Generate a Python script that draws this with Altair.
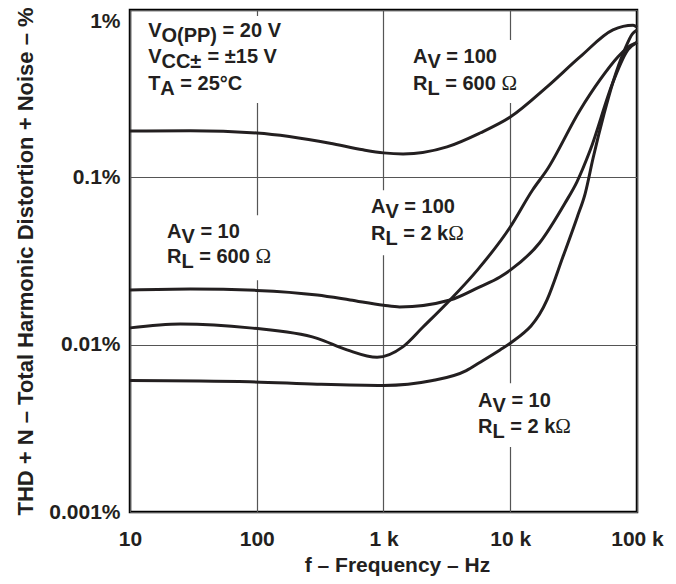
import math
import altair as alt
import pandas as pd

# ---------------- data ----------------
freq_ticks = [10, 100, 1000, 10000, 100000]
freq_tick_labels = ["10", "100", "1 k", "10 k", "100 k"]
thd_ticks = [0.001, 0.01, 0.1, 1]
thd_tick_labels = ["0.001%", "0.01%", "0.1%", "1%"]

# AV = 100, RL = 600 ohm
a100_600_f = [10, 30, 100, 378, 689, 1000, 1426, 3170, 5770, 10000, 19500, 35500, 64600, 93000, 100000]
a100_600_v = [0.189, 0.19, 0.184, 0.160, 0.146, 0.140, 0.138, 0.152, 0.184, 0.229, 0.347, 0.524, 0.76, 0.81, 0.79]

# AV = 10, RL = 600 ohm
a10_600_f = [10, 30, 100, 300, 545, 1000, 1340, 3350, 5700, 8300, 10000, 17000, 27000, 33600, 42700, 64600, 85000, 100000]
a10_600_v = [0.0212, 0.0215, 0.0211, 0.0198, 0.0185, 0.0172, 0.0168, 0.0185, 0.0221, 0.0254, 0.0279, 0.0405, 0.070, 0.094, 0.145, 0.37, 0.58, 0.64]

# AV = 100, RL = 2 kohm
a100_2k_f = [10, 25, 88, 300, 515, 890, 1420, 2040, 3350, 5500, 10000, 15000, 19500, 35500, 51000, 70000, 85000, 100000]
a100_2k_v = [0.0126, 0.0133, 0.0126, 0.0109, 0.0093, 0.0084, 0.0097, 0.0127, 0.0185, 0.0279, 0.0505, 0.084, 0.111, 0.252, 0.382, 0.52, 0.6, 0.64]

# AV = 10, RL = 2 kohm
a10_2k_f = [10, 88, 300, 1000, 2440, 4500, 5700, 8300, 10000, 19500, 26000, 33800, 39000, 45000, 55000, 64600, 80000, 92000, 100000]
a10_2k_v = [0.0061, 0.0060, 0.0058, 0.0057, 0.0061, 0.0070, 0.0078, 0.0093, 0.0102, 0.0185, 0.0334, 0.058, 0.08, 0.13, 0.24, 0.37, 0.58, 0.72, 0.76]

# label annotations: anchor (freq, %), lines of pieces (text, kind)
ann_f = [13.9, 1710, 19.6, 796, 5570]
ann_v = [0.69, 0.482, 0.0434, 0.0612, 0.00424]
ann_line_gap = [26.5, 27, 25, 27, 26]
ann_lines = [
    [[("V", "n"), ("O(PP)", "s"), (" = 20 V", "n")],
     [("V", "n"), ("CC±", "s"), (" = ±15 V", "n")],
     [("T", "n"), ("A", "s"), (" = 25°C", "n")]],
    [[("A", "n"), ("V", "s"), (" = 100", "n")],
     [("R", "n"), ("L", "s"), (" = 600 ", "n"), ("Ω", "g")]],
    [[("A", "n"), ("V", "s"), (" = 10", "n")],
     [("R", "n"), ("L", "s"), (" = 600 ", "n"), ("Ω", "g")]],
    [[("A", "n"), ("V", "s"), (" = 100", "n")],
     [("R", "n"), ("L", "s"), (" = 2 k", "n"), ("Ω", "g")]],
    [[("A", "n"), ("V", "s"), (" = 10", "n")],
     [("R", "n"), ("L", "s"), (" = 2 k", "n"), ("Ω", "g")]],
]

# white boxes behind labels (interrupt the grid)
box_f1 = [11, 1480, 17, 650, 4800]
box_f2 = [230, 14300, 220, 5700, 50000]
box_v1 = [0.92, 0.662, 0.0594, 0.0838, 0.00589]
box_v2 = [0.278, 0.278, 0.0243, 0.0342, 0.00245]

# ---------------- styling ----------------
FONT = "Liberation Sans"
SYM_FONT = "Liberation Serif"
AX_SIZE = 21
ANN_SIZE = 20
INK = "#231f20"

# Arial-bold advance widths (1/1000 em)
W = {' ': 278, '=': 584, 'A': 722, 'V': 667, 'R': 722, 'L': 611, 'T': 611,
     'O': 778, 'P': 667, 'C': 722, '(': 333, ')': 333, 'k': 556, '±': 584,
     '°': 400, 'Ω': 768}
for d in "0123456789":
    W[d] = 556


def tw(s, size):
    return sum(W.get(c, 556) for c in s) / 1000.0 * size


def label_expr(ticks, labels):
    expr = "'" + labels[-1] + "'"
    for i in range(len(ticks) - 2, -1, -1):
        th = math.sqrt(ticks[i] * ticks[i + 1])
        expr = "datum.value < %g ? '%s' : (%s)" % (th, labels[i], expr)
    return expr


x_scale = alt.Scale(type="log", domain=[freq_ticks[0], freq_ticks[-1]], nice=False)
y_scale = alt.Scale(type="log", domain=[thd_ticks[0], thd_ticks[-1]], nice=False)

x_axis = alt.Axis(values=freq_ticks, labelExpr=label_expr(freq_ticks, freq_tick_labels),
                  title="f – Frequency – Hz", grid=True, ticks=False, domain=False,
                  labelFlush=False, labelOverlap=False, labelPadding=16,
                  titleX=267, titleY=59, titleBaseline="alphabetic")
y_axis = alt.Axis(values=thd_ticks, labelExpr=label_expr(thd_ticks, thd_tick_labels),
                  title="THD + N – Total Harmonic Distortion + Noise – %", grid=True,
                  ticks=False, domain=False, labelFlush=False, labelOverlap=False,
                  labelPadding=10,
                  labelBaseline={"condition": {"test": "datum.value > 0.5", "value": "top"},
                                 "value": "middle"},
                  titleFontSize=22,
                  titleX=-98, titleY=251, titleAngle=-90, titleBaseline="alphabetic",
                  titleAlign="center")

X = alt.X("f:Q", scale=x_scale, axis=x_axis)
Y = alt.Y("v:Q", scale=y_scale, axis=y_axis)

# curves
rows = []
for name, fs, vs in [("a100_600", a100_600_f, a100_600_v), ("a10_600", a10_600_f, a10_600_v),
                     ("a100_2k", a100_2k_f, a100_2k_v), ("a10_2k", a10_2k_f, a10_2k_v)]:
    for i, (f, v) in enumerate(zip(fs, vs)):
        rows.append({"curve": name, "f": f, "v": v, "o": i})
curves_df = pd.DataFrame(rows)

boxes_df = pd.DataFrame({"f": box_f1, "f2": box_f2, "v": box_v1, "v2": box_v2})
boxes = alt.Chart(boxes_df).mark_rect(color="white").encode(
    x=X, x2="f2:Q", y=Y, y2="v2:Q")

lines = alt.Chart(curves_df).mark_line(color=INK, strokeWidth=3, interpolate="monotone").encode(
    x=X, y=Y, detail="curve:N", order="o:Q")

layers = [boxes, lines]
for a_i, lines_spec in enumerate(ann_lines):
    pt = pd.DataFrame({"f": [ann_f[a_i]], "v": [ann_v[a_i]]})
    for l_i, pieces in enumerate(lines_spec):
        x_off = 0.0
        y_base = l_i * ann_line_gap[a_i]
        for text, kind in pieces:
            lead = len(text) - len(text.lstrip(" "))
            shown = text.strip(" ")
            dx = x_off + tw(" " * lead, ANN_SIZE)
            dy = y_base + (5 if kind == "s" else 0)
            if kind == "g":
                mk = alt.Chart(pt).mark_text(text=shown, align="left", baseline="alphabetic",
                                             dx=dx, dy=dy, font=SYM_FONT, fontSize=ANN_SIZE + 1,
                                             fontWeight="normal", color=INK)
            else:
                mk = alt.Chart(pt).mark_text(text=shown, align="left", baseline="alphabetic",
                                             dx=dx, dy=dy, font=FONT, fontSize=ANN_SIZE,
                                             fontWeight="bold", color=INK)
            layers.append(mk.encode(x=X, y=Y))
            x_off += tw(text, ANN_SIZE)

chart = alt.layer(*layers).properties(
    width=507, height=502,
    autosize="none",
    padding={"left": 122, "top": 2, "right": 31, "bottom": 64},
).configure_view(
    stroke="black", strokeWidth=2.5
).configure_axis(
    labelFont=FONT, labelFontSize=AX_SIZE, labelFontWeight="bold", labelColor=INK,
    titleFont=FONT, titleFontSize=AX_SIZE, titleFontWeight="bold", titleColor=INK,
    gridColor="#555555", gridWidth=1.2, gridOpacity=1
)

chart.save("out.html", embed_options={"renderer": "svg", "actions": False})
